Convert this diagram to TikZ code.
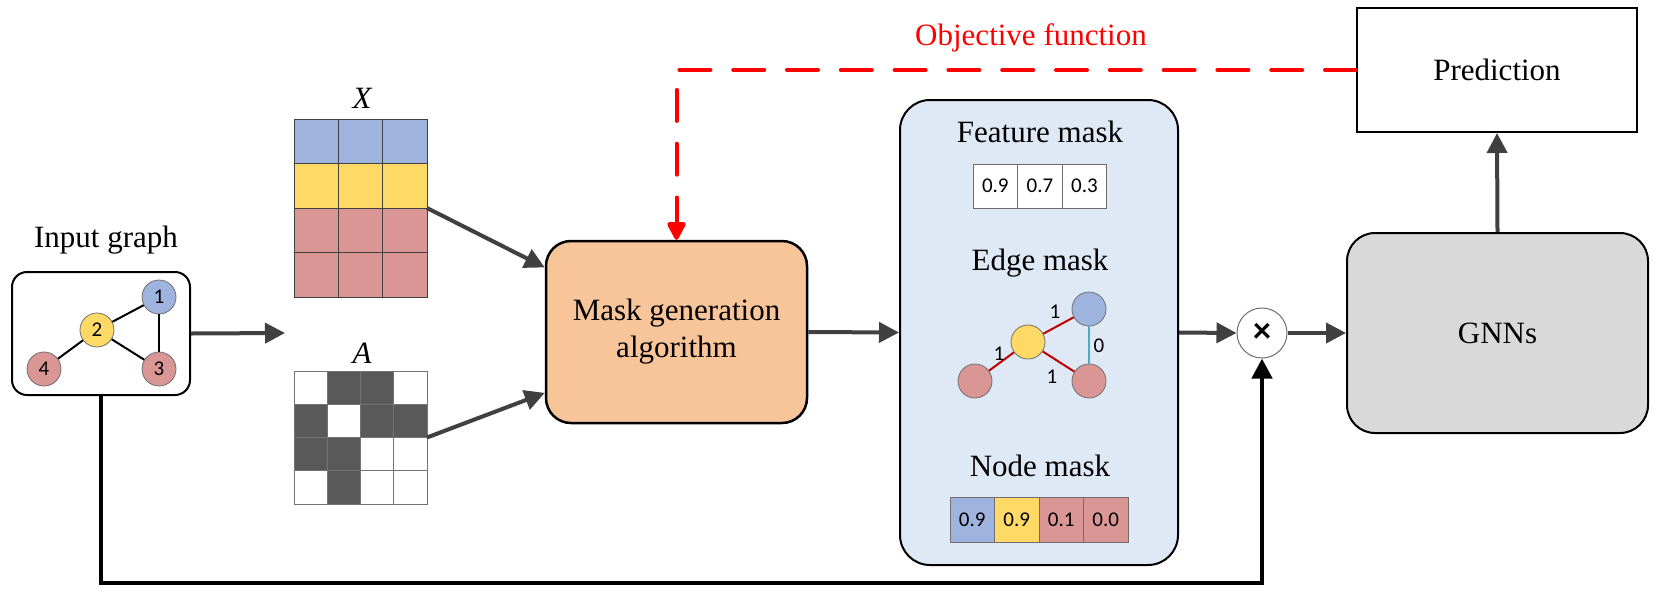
\documentclass[tikz,border=0pt]{standalone}
\usepackage{fontspec}
\setmainfont{Liberation Serif}
\newfontfamily\calib{Carlito}
\usetikzlibrary{arrows.meta,calc}
\definecolor{cblue}{RGB}{158,180,222}
\definecolor{cyellow}{RGB}{255,217,102}
\definecolor{cred}{RGB}{217,150,148}
\definecolor{cpeach}{RGB}{248,196,154}
\definecolor{clight}{RGB}{222,233,245}
\definecolor{cgnn}{RGB}{217,217,217}
\definecolor{cdark}{RGB}{89,89,89}
\definecolor{carrow}{RGB}{64,64,64}
\definecolor{cline}{RGB}{110,110,110}
\definecolor{cedge}{RGB}{192,0,0}
\definecolor{cteal}{RGB}{75,172,198}
\begin{document}
\begin{tikzpicture}[x=1pt,y=-1pt,
  lbl/.style={font=\fontsize{31}{38}\selectfont, inner sep=0, anchor=base},
  num/.style={font=\calib\fontsize{21}{24}\selectfont, inner sep=0},
  gnode/.style={circle, draw=cline, line width=0.8pt, minimum size=34pt, inner sep=0, font=\calib\fontsize{21}{24}\selectfont},
  xcell/.style={draw=black!75, line width=0.9pt, inner sep=0, outer sep=0, minimum width=44.33pt, minimum height=44.5pt},
  acell/.style={draw=black!55, line width=0.9pt, inner sep=0, outer sep=0, minimum width=33.25pt, minimum height=33.25pt},
  fcell/.style={draw=cline, line width=0.9pt, inner sep=0, outer sep=0, minimum width=44.6pt, minimum height=44pt, font=\calib\fontsize{21}{24}\selectfont},
  arr/.style={draw=carrow, line width=4pt, -{Triangle[length=20pt,width=20pt]}},
  blk/.style={draw=black, line width=4.5pt, -{Triangle[length=20pt,width=20pt]}},
  reddash/.style={draw=red, line width=4pt, line cap=round, dash pattern=on 31pt off 22.8pt, -{Triangle[length=20pt,width=20pt,round=false]}},
  box/.style={draw=black, line width=2pt, inner sep=0, align=center, font=\fontsize{31}{37}\selectfont}
]
\useasboundingbox (0,0) rectangle (1662,598);

% Input graph
\node[lbl] (inlab) at (106,247) {Input graph};
\node[box, rounded corners=15pt, minimum width=178pt, minimum height=123pt] (inp) at (101,333.5) {};
\node[gnode, fill=cblue] (g1) at (159,297) {1};
\node[gnode, fill=cyellow] (g2) at (97,330) {2};
\node[gnode, fill=cred] (g3) at (159,369) {3};
\node[gnode, fill=cred] (g4) at (44,369) {4};
\draw[line width=2pt] (g1) -- (g2);
\draw[line width=2pt] (g2) -- (g4);
\draw[line width=2pt] (g2) -- (g3);
\draw[line width=2pt] (g1) -- (g3);

% X matrix
\node[lbl] (xlab) at (362,108) {\itshape X};
\foreach \r/\col in {0/cblue,1/cyellow,2/cred,3/cred}
  \foreach \c in {0,1,2}
    \node[xcell, fill=\col] (x\r\c) at ({294+22.17+44.33*\c},{119+22.25+44.5*\r}) {};

% A matrix
\node[lbl] (alab) at (362,363) {\itshape A};
\foreach \r/\c/\f in {0/0/white,0/1/cdark,0/2/cdark,0/3/white,
                      1/0/cdark,1/1/white,1/2/cdark,1/3/cdark,
                      2/0/cdark,2/1/cdark,2/2/white,2/3/white,
                      3/0/white,3/1/cdark,3/2/white,3/3/white}
  \node[acell, fill=\f] (a\r\c) at ({294+16.625+33.25*\c},{371+16.625+33.25*\r}) {};

% Mask generation
\node[box, line width=2.5pt, rounded corners=25pt, fill=cpeach, minimum width=261pt, minimum height=182pt] (mask) at (676.5,332) {Mask generation\\algorithm};

% Blue box
\node[box, rounded corners=30pt, fill=clight, minimum width=278pt, minimum height=465pt] (blue) at (1039,332.5) {};
\node[lbl] (fmlab) at (1040,142) {Feature mask};
\foreach \v [count=\i from 0] in {0.9,0.7,0.3}
  \node[fcell, fill=white] (f\i) at ({973+22.3+44.6*\i},186) {\v};

\node[lbl] (emlab) at (1040,270) {Edge mask};
\node[gnode, fill=cblue] (e1) at (1089,309) {};
\node[gnode, fill=cyellow] (e2) at (1028,342) {};
\node[gnode, fill=cred] (e3) at (1089,381) {};
\node[gnode, fill=cred] (e4) at (975,381) {};
\draw[cedge, line width=2pt] (e1) -- (e2);
\draw[cedge, line width=2pt] (e2) -- (e4);
\draw[cedge, line width=2pt] (e2) -- (e3);
\draw[cteal, line width=2pt] (e1) -- (e3);
\node[num] (w12) at (1055,312) {1};
\node[num] (w24) at (999,354) {1};
\node[num] (w23) at (1052,377) {1};
\node[num] (w13) at (1099,346) {0};

\node[lbl] (nmlab) at (1040,476) {Node mask};
\foreach \v/\col [count=\i from 0] in {0.9/cblue,0.9/cyellow,0.1/cred,0.0/cred}
  \node[fcell, fill=\col, minimum width=44.5pt, minimum height=45pt] (n\i) at ({950+22.25+44.5*\i},519.5) {\v};

% multiply
\node[circle, draw=cline, line width=1pt, fill=white, minimum size=50pt, inner sep=0] (mult) at (1262,333) {\calib\bfseries\fontsize{36}{36}\selectfont ×};

% GNNs and prediction
\node[box, rounded corners=28pt, fill=cgnn, minimum width=301pt, minimum height=200pt] (gnn) at (1497.5,333) {GNNs};
\node[box, fill=white, minimum width=280pt, minimum height=124pt] (pred) at (1497,70) {Prediction};

\node[lbl, text=red] (obj) at (1031,45) {Objective function};

% connectors
\coordinate (inend) at (285,333);
\draw[arr] (inp.east) -- (inend);
\draw[arr] (x12.south east) -- ($(mask.north west)!0.15!(mask.south west)$);
\draw[arr] (a13.south east) -- ($(mask.north west)!0.83!(mask.south west)$);
\draw[arr] (mask.east) -- (blue.west);
\draw[arr] (blue.east) -- (mult.west);
\draw[arr] (mult.east) -- (gnn.west);
\draw[arr] (gnn.north) -- (pred.south);
\draw[reddash] (pred.west) -| (mask.north);
\coordinate (bl) at (101,583);
\draw[blk] (inp.south) -- (bl) -| (mult.south);
\end{tikzpicture}
\end{document}
